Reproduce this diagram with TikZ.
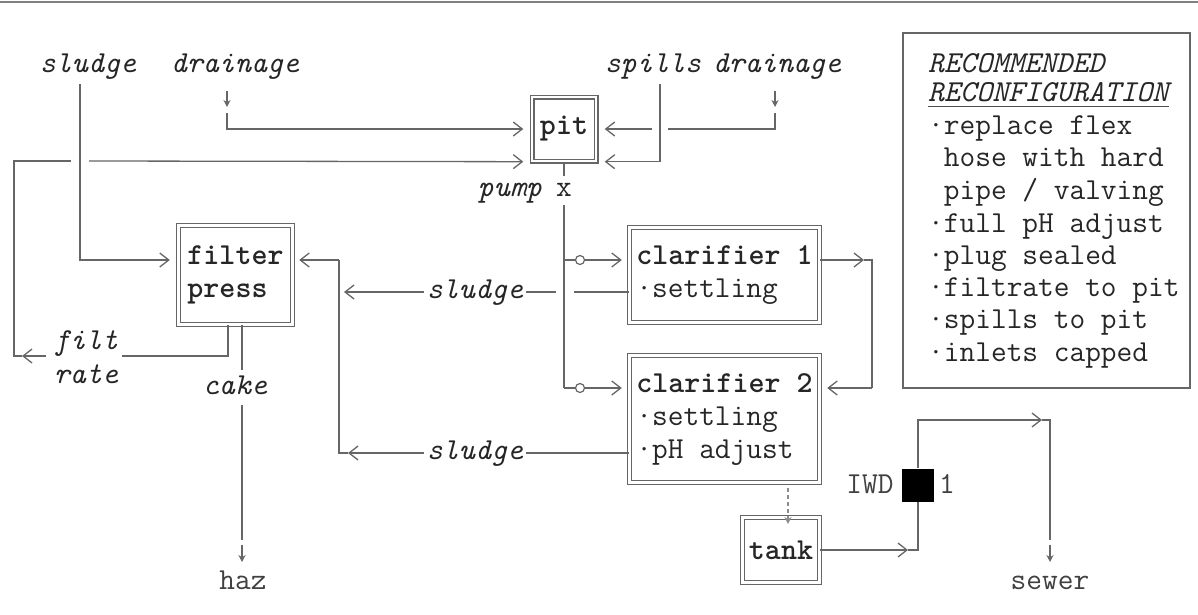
\documentclass[tikz,border=0pt]{standalone}
\usepackage{fontspec}
\usetikzlibrary{arrows.meta}
\begin{document}
\begin{tikzpicture}[x=1pt,y=-1pt,
  every node/.style={inner sep=0pt, font=\fontsize{30.5}{33}\selectfont\ttfamily, text=black!85},
  ln/.style={draw=black!60, line width=1.3pt},
  arr/.style={ln, -{Straight Barb[length=9pt,width=14pt]}},
  dn/.style={ln, -{Stealth[length=7pt,width=7pt]}},
  box/.style={draw=black!60, double=white, double distance=2.2pt, line width=1.4pt,
    inner sep=0pt, align=left, font=\fontsize{30.5}{33}\selectfont\ttfamily\bfseries},
  txt/.style={text height=18pt, text depth=5pt},
  it/.style={txt, font=\fontsize{30.5}{33}\selectfont\ttfamily\itshape},
  rm/.style={txt, text=black!75},
  inl/.style={inner xsep=3pt},
]
\path[use as bounding box] (0,0) rectangle (1198,614);
\coordinate (rl) at (0,2); \coordinate (rr) at (1198,2);
\draw[draw=black!50, line width=2pt] (rl) -- (rr);

% boxes
\node[box, minimum width=64pt, minimum height=64pt] (pit) at (564,129) {pit};
\node[box, minimum width=114pt, minimum height=99pt] (filter) at (235.5,275) {filter\\press};
\node[box, minimum width=190pt, minimum height=95pt] (clar1) at (724.5,275)
  {clarifier 1\\\mdseries·settling};
\node[box, minimum width=190pt, minimum height=127pt] (clar2) at (724.5,419)
  {clarifier 2\\\mdseries·settling\\\mdseries·pH adjust};
\node[box, minimum width=77pt, minimum height=65pt] (tank) at (781,550) {tank};
\node[draw=black!60, line width=1.4pt, minimum width=287pt, minimum height=355pt] (rec) at (1046.5,210.5) {};

% recommendation text
\node[it, anchor=west] (r1) at (928,66) {RECOMMENDED};
\node[it, anchor=west] (r2) at (928,95) {RECONFIGURATION};
\draw[draw=black!70, line width=1.3pt] (r2.south west) -- (r2.south east);
\node[txt, anchor=west] (r3) at (928,128) {·replace flex};
\node[txt, anchor=west] (r4) at (928,160) {\hphantom{·}hose with hard};
\node[txt, anchor=west] (r5) at (928,193) {\hphantom{·}pipe / valving};
\node[txt, anchor=west] (r6) at (928,226) {·full pH adjust};
\node[txt, anchor=west] (r7) at (928,258) {·plug sealed};
\node[txt, anchor=west] (r8) at (928,290) {·filtrate to pit};
\node[txt, anchor=west] (r9) at (928,322) {·spills to pit};
\node[txt, anchor=west] (r10) at (928,355) {·inlets capped};

% labels
\node[it] (sl1) at (88,66) {sludge};
\node[it] (dr1) at (235,66) {drainage};
\node[it] (sp) at (653,66) {spills};
\node[it] (dr2) at (777,66) {drainage};
\node[it] (pump) at (510,190) {pump};
\node[txt] (vx) at (564,190) {x};
\node[it] (cake) at (235,388) {cake};
\node[it] (filt) at (86,343) {filt};
\node[it] (rate) at (86,377) {rate};
\node[it, inl] (sl2) at (475,292) {sludge};
\node[it, inl] (sl3) at (475,453) {sludge};
\node[rm] (haz) at (243,583) {haz};
\node[rm] (sewer) at (1050,583) {sewer};
\node[rm] (iwd) at (870,487) {IWD};
\node[fill=black, minimum width=32pt, minimum height=33pt] (sq) at (918,485) {};
\node[rm] (one) at (947,487) {1};

% drainage left
\coordinate (d1a) at (227,91); \coordinate (d1b) at (227,107); \coordinate (d1s) at (227,113);
\draw[dn] (d1a) -- (d1b);
\draw[arr, shorten >=8pt] (d1s) |- (pit.west);

% filtrate loop
\coordinate (f0) at (228,324.5); \coordinate (f1) at (228,356); \coordinate (f2) at (122,356);
\coordinate (f3) at (46,356); \coordinate (f4) at (22,356); \coordinate (f5) at (14,356);
\coordinate (f6) at (14,161); \coordinate (f7) at (71,161); \coordinate (f8) at (89,161);
\draw[ln] (f0) -- (f1) -- (f2);
\draw[arr] (f3) -- (f4);
\draw[ln] (f4) -- (f5) -- (f6) -- (f7);
\draw[arr, shorten >=8pt] (f8) -- (pit.south west);

% sludge top to filter
\coordinate (s1) at (80,84); \coordinate (s2) at (80,260);
\draw[arr, shorten >=8pt] (s1) -- (s2) -- (filter.west |- s2);

% collector to filter
\coordinate (c1) at (339,260); \coordinate (c2) at (339,453); \coordinate (c3) at (348,453);
\coordinate (c4) at (344,292);
\draw[arr, shorten >=6pt] (c1) -- (filter.east |- c1);
\draw[ln] (c1) -- (c2) -- (c3);
\draw[arr] (sl2.west) -- (c4);
\coordinate (g1) at (556,292); \coordinate (g2) at (574,292);
\draw[ln] (sl2.east) -- (g1);
\draw[ln] (g2) -- (clar1.west |- g2);
\draw[arr] (sl3.west) -- (c3);
\draw[ln] (sl3.east) -- (clar2.west |- sl3);

% pump line
\coordinate (p1) at (564,176); \coordinate (p2) at (564,205);
\coordinate (p3) at (564,260); \coordinate (p4) at (564,388);
\draw[ln] (pit.south) -- (p1);
\draw[ln] (p2) -- (p4);
\node[circle, draw=black!60, line width=1.2pt, minimum size=9pt] (o1) at (580,260) {};
\node[circle, draw=black!60, line width=1.2pt, minimum size=9pt] (o2) at (580,388) {};
\draw[ln] (p3) -- (o1.west);
\draw[ln] (p4) -- (o2.west);
\draw[arr, shorten >=7pt] (o1.east) -- (clar1.west |- o1);
\draw[arr, shorten >=7pt] (o2.east) -- (clar2.west |- o2);

% clarifier overflow
\coordinate (k1) at (864,260); \coordinate (k2) at (872,260); \coordinate (k3) at (872,388);
\draw[arr] (clar1.east |- k1) -- (k1);
\draw[ln] (k1) -- (k2) -- (k3);
\draw[arr, shorten >=7pt] (k3) -- (clar2.east |- k3);

% drainage right and spills
\coordinate (d2a) at (775,91); \coordinate (d2b) at (775,107); \coordinate (d2s) at (775,113);
\coordinate (d2c) at (775,129); \coordinate (h1) at (668,129); \coordinate (h2) at (652,129);
\draw[dn] (d2a) -- (d2b);
\draw[ln] (d2s) -- (d2c) -- (h1);
\draw[arr, shorten >=8pt] (h2) -- (pit.east);
\coordinate (sp1) at (660,84);
\draw[arr, shorten >=8pt] (sp1) |- (pit.south east);

% cake to haz
\coordinate (ck0) at (242,324.5); \coordinate (ck1) at (242,370);
\coordinate (ck2) at (242,405); \coordinate (ck3) at (242,540);
\coordinate (ck4) at (242,545); \coordinate (ck5) at (242,562);
\draw[ln] (ck0) -- (ck1);
\draw[ln] (ck2) -- (ck3);
\draw[dn] (ck4) -- (ck5);

% clarifier 2 to tank
\coordinate (tk1) at (788,488); \coordinate (tk2) at (788,524);
\draw[dn, draw=black!45, dash pattern=on 4pt off 3pt] (tk1) -- (tk2);

% tank to sewer
\coordinate (t1) at (908,550); \coordinate (t2) at (918,550);
\coordinate (t4) at (1042,420); \coordinate (t5) at (1050,420); \coordinate (t6) at (1050,540);
\coordinate (t7) at (1050,545); \coordinate (t8) at (1050,562);
\draw[arr] (tank.east |- t1) -- (t1);
\draw[ln] (t1) -- (t2) -- (sq.south);
\draw[arr] (sq.north) |- (t4);
\draw[ln] (t4) -- (t5) -- (t6);
\draw[dn] (t7) -- (t8);
\end{tikzpicture}
\end{document}
